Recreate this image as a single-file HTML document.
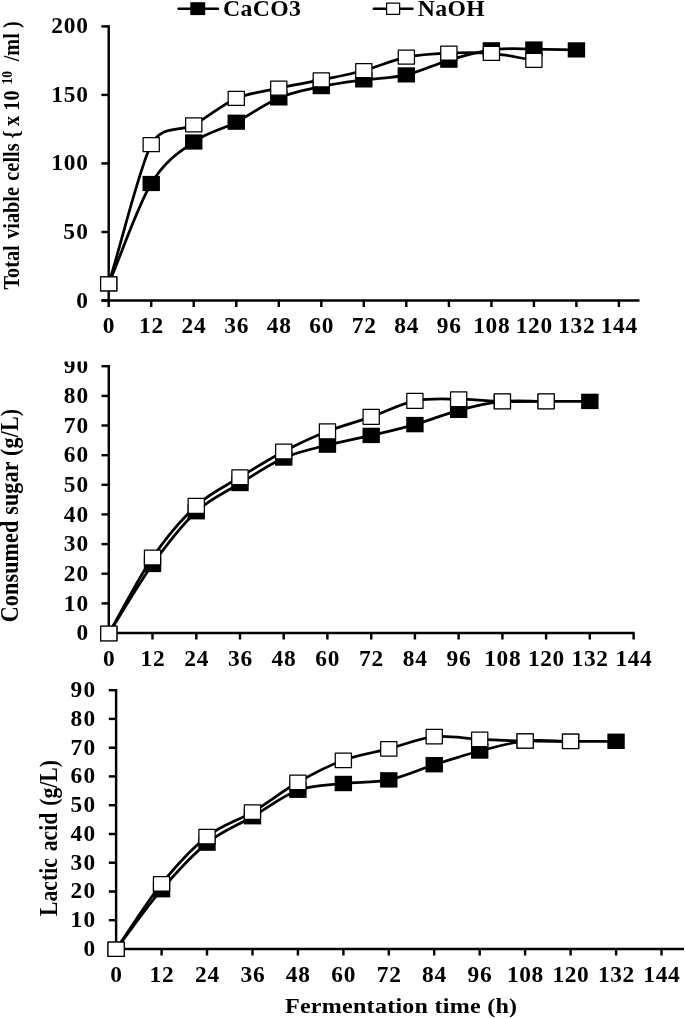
<!DOCTYPE html>
<html lang="en"><head><meta charset="utf-8"><title>Fermentation charts</title><style>
html,body{margin:0;padding:0;background:#fff;}
body{width:685px;height:1018px;overflow:hidden;}
svg{display:block;}
.ax{stroke:#000;stroke-width:2.45;fill:none;stroke-linecap:butt;}
.ln{stroke:#000;stroke-width:2.75;fill:none;stroke-linecap:round;stroke-linejoin:round;}
.wm{fill:#fff;stroke:#000;stroke-width:1.25;stroke-linejoin:round;}
</style></head><body>
<svg width="685" height="1018" viewBox="0 0 685 1018">
<rect width="685" height="1018" fill="#fff"/>
<defs><filter id="soft" x="0" y="0" width="685" height="1018" filterUnits="userSpaceOnUse" color-interpolation-filters="sRGB"><feGaussianBlur stdDeviation="0.55"/></filter></defs>
<g font-family='"Liberation Serif", "DejaVu Serif", serif' font-weight="bold" fill="#000" filter="url(#soft)">
<path d="M108.8,365.0 V634.2" class="ax"/>
<path d="M101.5,633.0 H634.6" class="ax"/>
<path d="M101.5,633.0 H108.8" class="ax"/>
<text transform="translate(88.3 640.1) scale(1.05 1.0)" font-size="22.3" text-anchor="end" textLength="12.1" lengthAdjust="spacing" >0</text>
<path d="M101.5,603.4 H108.8" class="ax"/>
<text transform="translate(88.3 610.5) scale(1.05 1.0)" font-size="22.3" text-anchor="end" textLength="23.5" lengthAdjust="spacing" >10</text>
<path d="M101.5,573.7 H108.8" class="ax"/>
<text transform="translate(88.3 580.8) scale(1.05 1.0)" font-size="22.3" text-anchor="end" textLength="23.5" lengthAdjust="spacing" >20</text>
<path d="M101.5,544.1 H108.8" class="ax"/>
<text transform="translate(88.3 551.2) scale(1.05 1.0)" font-size="22.3" text-anchor="end" textLength="23.5" lengthAdjust="spacing" >30</text>
<path d="M101.5,514.4 H108.8" class="ax"/>
<text transform="translate(88.3 521.5) scale(1.05 1.0)" font-size="22.3" text-anchor="end" textLength="23.5" lengthAdjust="spacing" >40</text>
<path d="M101.5,484.8 H108.8" class="ax"/>
<text transform="translate(88.3 491.9) scale(1.05 1.0)" font-size="22.3" text-anchor="end" textLength="23.5" lengthAdjust="spacing" >50</text>
<path d="M101.5,455.2 H108.8" class="ax"/>
<text transform="translate(88.3 462.3) scale(1.05 1.0)" font-size="22.3" text-anchor="end" textLength="23.5" lengthAdjust="spacing" >60</text>
<path d="M101.5,425.5 H108.8" class="ax"/>
<text transform="translate(88.3 432.6) scale(1.05 1.0)" font-size="22.3" text-anchor="end" textLength="23.5" lengthAdjust="spacing" >70</text>
<path d="M101.5,395.9 H108.8" class="ax"/>
<text transform="translate(88.3 403.0) scale(1.05 1.0)" font-size="22.3" text-anchor="end" textLength="23.5" lengthAdjust="spacing" >80</text>
<path d="M101.5,366.2 H108.8" class="ax"/>
<text transform="translate(88.3 373.3) scale(1.05 1.0)" font-size="22.3" text-anchor="end" textLength="23.5" lengthAdjust="spacing" >90</text>
<path d="M108.8,633.0 V639.5" class="ax"/>
<text transform="translate(108.8 666.3) scale(1.05 1.0)" font-size="22.3" text-anchor="middle" textLength="11.6" lengthAdjust="spacing" >0</text>
<path d="M152.5,633.0 V639.5" class="ax"/>
<text transform="translate(152.5 666.3) scale(1.05 1.0)" font-size="22.3" text-anchor="middle" textLength="23.1" lengthAdjust="spacing" >12</text>
<path d="M196.3,633.0 V639.5" class="ax"/>
<text transform="translate(196.3 666.3) scale(1.05 1.0)" font-size="22.3" text-anchor="middle" textLength="23.1" lengthAdjust="spacing" >24</text>
<path d="M240.0,633.0 V639.5" class="ax"/>
<text transform="translate(240.0 666.3) scale(1.05 1.0)" font-size="22.3" text-anchor="middle" textLength="23.1" lengthAdjust="spacing" >36</text>
<path d="M283.7,633.0 V639.5" class="ax"/>
<text transform="translate(283.7 666.3) scale(1.05 1.0)" font-size="22.3" text-anchor="middle" textLength="23.1" lengthAdjust="spacing" >48</text>
<path d="M327.4,633.0 V639.5" class="ax"/>
<text transform="translate(327.4 666.3) scale(1.05 1.0)" font-size="22.3" text-anchor="middle" textLength="23.1" lengthAdjust="spacing" >60</text>
<path d="M371.2,633.0 V639.5" class="ax"/>
<text transform="translate(371.2 666.3) scale(1.05 1.0)" font-size="22.3" text-anchor="middle" textLength="23.1" lengthAdjust="spacing" >72</text>
<path d="M414.9,633.0 V639.5" class="ax"/>
<text transform="translate(414.9 666.3) scale(1.05 1.0)" font-size="22.3" text-anchor="middle" textLength="23.1" lengthAdjust="spacing" >84</text>
<path d="M458.6,633.0 V639.5" class="ax"/>
<text transform="translate(458.6 666.3) scale(1.05 1.0)" font-size="22.3" text-anchor="middle" textLength="23.1" lengthAdjust="spacing" >96</text>
<path d="M502.4,633.0 V639.5" class="ax"/>
<text transform="translate(502.4 666.3) scale(1.05 1.0)" font-size="22.3" text-anchor="middle" textLength="34.7" lengthAdjust="spacing" >108</text>
<path d="M546.1,633.0 V639.5" class="ax"/>
<text transform="translate(546.1 666.3) scale(1.05 1.0)" font-size="22.3" text-anchor="middle" textLength="34.7" lengthAdjust="spacing" >120</text>
<path d="M589.8,633.0 V639.5" class="ax"/>
<text transform="translate(589.8 666.3) scale(1.05 1.0)" font-size="22.3" text-anchor="middle" textLength="34.7" lengthAdjust="spacing" >132</text>
<path d="M633.6,633.0 V639.5" class="ax"/>
<text transform="translate(633.6 666.3) scale(1.05 1.0)" font-size="22.3" text-anchor="middle" textLength="34.7" lengthAdjust="spacing" >144</text>
<path d="M108.80,633.50 C123.38,610.47 137.95,584.70 152.53,564.40 C167.11,544.10 181.68,525.18 196.26,511.70 C210.84,498.22 225.41,492.45 239.99,483.50 C254.57,474.55 269.14,464.40 283.72,458.00 C298.30,451.60 312.87,448.87 327.45,445.10 C342.03,441.33 356.60,438.82 371.18,435.40 C385.76,431.98 400.33,428.78 414.91,424.60 C429.49,420.42 444.06,414.17 458.64,410.30 C473.22,406.43 487.79,402.88 502.37,401.40 C516.95,399.92 531.52,401.40 546.10,401.40 C560.68,401.40 575.25,401.40 589.83,401.40" class="ln"/>
<path d="M108.80,633.50 C123.38,608.17 137.95,578.78 152.53,557.50 C167.11,536.22 181.68,519.18 196.26,505.80 C210.84,492.42 225.41,486.25 239.99,477.20 C254.57,468.15 269.14,459.15 283.72,451.50 C298.30,443.85 312.87,437.07 327.45,431.30 C342.03,425.53 356.60,421.97 371.18,416.90 C385.76,411.83 400.33,403.85 414.91,400.90 C429.49,397.95 444.06,399.12 458.64,399.20 C473.22,399.28 487.79,401.03 502.37,401.40 C516.95,401.77 531.52,401.40 546.10,401.40" class="ln"/>
<rect x="100.10" y="625.80" width="17.4" height="15.4" fill="#000"/>
<rect x="143.83" y="556.70" width="17.4" height="15.4" fill="#000"/>
<rect x="187.56" y="504.00" width="17.4" height="15.4" fill="#000"/>
<rect x="231.29" y="475.80" width="17.4" height="15.4" fill="#000"/>
<rect x="275.02" y="450.30" width="17.4" height="15.4" fill="#000"/>
<rect x="318.75" y="437.40" width="17.4" height="15.4" fill="#000"/>
<rect x="362.48" y="427.70" width="17.4" height="15.4" fill="#000"/>
<rect x="406.21" y="416.90" width="17.4" height="15.4" fill="#000"/>
<rect x="449.94" y="402.60" width="17.4" height="15.4" fill="#000"/>
<rect x="493.67" y="393.70" width="17.4" height="15.4" fill="#000"/>
<rect x="537.40" y="393.70" width="17.4" height="15.4" fill="#000"/>
<rect x="581.13" y="393.70" width="17.4" height="15.4" fill="#000"/>
<rect x="100.70" y="626.05" width="16.2" height="14.9" class="wm"/>
<rect x="144.43" y="550.05" width="16.2" height="14.9" class="wm"/>
<rect x="188.16" y="498.35" width="16.2" height="14.9" class="wm"/>
<rect x="231.89" y="469.75" width="16.2" height="14.9" class="wm"/>
<rect x="275.62" y="444.05" width="16.2" height="14.9" class="wm"/>
<rect x="319.35" y="423.85" width="16.2" height="14.9" class="wm"/>
<rect x="363.08" y="409.45" width="16.2" height="14.9" class="wm"/>
<rect x="406.81" y="393.45" width="16.2" height="14.9" class="wm"/>
<rect x="450.54" y="391.75" width="16.2" height="14.9" class="wm"/>
<rect x="494.27" y="393.95" width="16.2" height="14.9" class="wm"/>
<rect x="538.00" y="393.95" width="16.2" height="14.9" class="wm"/>
<rect x="0" y="340" width="108" height="21.5" fill="#fff"/>
<path d="M108.7,25.2 V301.7" class="ax"/>
<path d="M101.5,300.5 H639.5" class="ax"/>
<path d="M101.4,300.5 H108.7" class="ax"/>
<text transform="translate(88.0 307.5) scale(1.05 1.0)" font-size="22.3" text-anchor="end" textLength="12.1" lengthAdjust="spacing" >0</text>
<path d="M101.4,232.0 H108.7" class="ax"/>
<text transform="translate(88.0 239.0) scale(1.05 1.0)" font-size="22.3" text-anchor="end" textLength="23.5" lengthAdjust="spacing" >50</text>
<path d="M101.4,163.4 H108.7" class="ax"/>
<text transform="translate(88.0 170.4) scale(1.05 1.0)" font-size="22.3" text-anchor="end" textLength="35.0" lengthAdjust="spacing" >100</text>
<path d="M101.4,94.9 H108.7" class="ax"/>
<text transform="translate(88.0 101.9) scale(1.05 1.0)" font-size="22.3" text-anchor="end" textLength="35.0" lengthAdjust="spacing" >150</text>
<path d="M101.4,26.4 H108.7" class="ax"/>
<text transform="translate(88.0 33.4) scale(1.05 1.0)" font-size="22.3" text-anchor="end" textLength="35.0" lengthAdjust="spacing" >200</text>
<path d="M108.7,300.5 V307.0" class="ax"/>
<text transform="translate(108.7 333.2) scale(1.05 1.0)" font-size="22.3" text-anchor="middle" textLength="11.6" lengthAdjust="spacing" >0</text>
<path d="M151.2,300.5 V307.0" class="ax"/>
<text transform="translate(151.2 333.2) scale(1.05 1.0)" font-size="22.3" text-anchor="middle" textLength="23.1" lengthAdjust="spacing" >12</text>
<path d="M193.7,300.5 V307.0" class="ax"/>
<text transform="translate(193.7 333.2) scale(1.05 1.0)" font-size="22.3" text-anchor="middle" textLength="23.1" lengthAdjust="spacing" >24</text>
<path d="M236.3,300.5 V307.0" class="ax"/>
<text transform="translate(236.3 333.2) scale(1.05 1.0)" font-size="22.3" text-anchor="middle" textLength="23.1" lengthAdjust="spacing" >36</text>
<path d="M278.8,300.5 V307.0" class="ax"/>
<text transform="translate(278.8 333.2) scale(1.05 1.0)" font-size="22.3" text-anchor="middle" textLength="23.1" lengthAdjust="spacing" >48</text>
<path d="M321.3,300.5 V307.0" class="ax"/>
<text transform="translate(321.3 333.2) scale(1.05 1.0)" font-size="22.3" text-anchor="middle" textLength="23.1" lengthAdjust="spacing" >60</text>
<path d="M363.8,300.5 V307.0" class="ax"/>
<text transform="translate(363.8 333.2) scale(1.05 1.0)" font-size="22.3" text-anchor="middle" textLength="23.1" lengthAdjust="spacing" >72</text>
<path d="M406.3,300.5 V307.0" class="ax"/>
<text transform="translate(406.3 333.2) scale(1.05 1.0)" font-size="22.3" text-anchor="middle" textLength="23.1" lengthAdjust="spacing" >84</text>
<path d="M448.9,300.5 V307.0" class="ax"/>
<text transform="translate(448.9 333.2) scale(1.05 1.0)" font-size="22.3" text-anchor="middle" textLength="23.1" lengthAdjust="spacing" >96</text>
<path d="M491.4,300.5 V307.0" class="ax"/>
<text transform="translate(491.4 333.2) scale(1.05 1.0)" font-size="22.3" text-anchor="middle" textLength="34.7" lengthAdjust="spacing" >108</text>
<path d="M533.9,300.5 V307.0" class="ax"/>
<text transform="translate(533.9 333.2) scale(1.05 1.0)" font-size="22.3" text-anchor="middle" textLength="34.7" lengthAdjust="spacing" >120</text>
<path d="M576.4,300.5 V307.0" class="ax"/>
<text transform="translate(576.4 333.2) scale(1.05 1.0)" font-size="22.3" text-anchor="middle" textLength="34.7" lengthAdjust="spacing" >132</text>
<path d="M618.9,300.5 V307.0" class="ax"/>
<text transform="translate(618.9 333.2) scale(1.05 1.0)" font-size="22.3" text-anchor="middle" textLength="34.7" lengthAdjust="spacing" >144</text>
<path d="M108.70,283.90 C122.87,250.43 137.05,207.15 151.22,183.50 C165.39,159.85 179.57,152.22 193.74,142.00 C207.91,131.78 222.09,129.55 236.26,122.20 C250.43,114.85 264.61,103.83 278.78,97.90 C292.95,91.97 307.13,89.60 321.30,86.60 C335.47,83.60 349.65,81.85 363.82,79.90 C377.99,77.95 392.17,78.18 406.34,74.90 C420.51,71.62 434.69,64.38 448.86,60.20 C463.03,56.02 477.21,51.67 491.38,49.80 C505.55,47.93 519.73,48.98 533.90,49.00 C548.07,49.02 562.25,49.60 576.42,49.90" class="ln"/>
<path d="M108.70,283.90 C122.87,237.50 140.15,165.40 151.22,144.70 C162.29,124.00 179.57,132.52 193.74,124.80 C207.91,117.08 222.09,104.50 236.26,98.40 C250.43,92.30 264.61,91.28 278.78,88.20 C292.95,85.12 307.13,82.85 321.30,79.90 C335.47,76.95 349.65,74.30 363.82,70.50 C377.99,66.70 392.17,60.02 406.34,57.10 C420.51,54.18 434.69,53.62 448.86,53.00 C463.03,52.38 477.21,52.18 491.38,53.40 C505.55,54.62 519.73,58.00 533.90,60.30" class="ln"/>
<rect x="100.00" y="276.30" width="17.4" height="15.2" fill="#000"/>
<rect x="142.52" y="175.90" width="17.4" height="15.2" fill="#000"/>
<rect x="185.04" y="134.40" width="17.4" height="15.2" fill="#000"/>
<rect x="227.56" y="114.60" width="17.4" height="15.2" fill="#000"/>
<rect x="270.08" y="90.30" width="17.4" height="15.2" fill="#000"/>
<rect x="312.60" y="79.00" width="17.4" height="15.2" fill="#000"/>
<rect x="355.12" y="72.30" width="17.4" height="15.2" fill="#000"/>
<rect x="397.64" y="67.30" width="17.4" height="15.2" fill="#000"/>
<rect x="440.16" y="52.60" width="17.4" height="15.2" fill="#000"/>
<rect x="482.68" y="42.20" width="17.4" height="15.2" fill="#000"/>
<rect x="525.20" y="41.40" width="17.4" height="15.2" fill="#000"/>
<rect x="567.72" y="42.30" width="17.4" height="15.2" fill="#000"/>
<rect x="100.60" y="276.90" width="16.2" height="14.0" class="wm"/>
<rect x="143.12" y="137.70" width="16.2" height="14.0" class="wm"/>
<rect x="185.64" y="117.80" width="16.2" height="14.0" class="wm"/>
<rect x="228.16" y="91.40" width="16.2" height="14.0" class="wm"/>
<rect x="270.68" y="81.20" width="16.2" height="14.0" class="wm"/>
<rect x="313.20" y="72.90" width="16.2" height="14.0" class="wm"/>
<rect x="355.72" y="63.50" width="16.2" height="14.0" class="wm"/>
<rect x="398.24" y="50.10" width="16.2" height="14.0" class="wm"/>
<rect x="440.76" y="46.00" width="16.2" height="14.0" class="wm"/>
<rect x="483.28" y="46.40" width="16.2" height="14.0" class="wm"/>
<rect x="525.80" y="53.30" width="16.2" height="14.0" class="wm"/>
<path d="M116.1,689.0 V950.2" class="ax"/>
<path d="M108.5,949.0 H684.0" class="ax"/>
<path d="M108.8,949.0 H116.1" class="ax"/>
<text transform="translate(95.2 955.9) scale(1.05 1.0)" font-size="22.3" text-anchor="end" textLength="12.1" lengthAdjust="spacing" >0</text>
<path d="M108.8,920.2 H116.1" class="ax"/>
<text transform="translate(95.2 927.1) scale(1.05 1.0)" font-size="22.3" text-anchor="end" textLength="23.5" lengthAdjust="spacing" >10</text>
<path d="M108.8,891.5 H116.1" class="ax"/>
<text transform="translate(95.2 898.4) scale(1.05 1.0)" font-size="22.3" text-anchor="end" textLength="23.5" lengthAdjust="spacing" >20</text>
<path d="M108.8,862.7 H116.1" class="ax"/>
<text transform="translate(95.2 869.6) scale(1.05 1.0)" font-size="22.3" text-anchor="end" textLength="23.5" lengthAdjust="spacing" >30</text>
<path d="M108.8,834.0 H116.1" class="ax"/>
<text transform="translate(95.2 840.9) scale(1.05 1.0)" font-size="22.3" text-anchor="end" textLength="23.5" lengthAdjust="spacing" >40</text>
<path d="M108.8,805.2 H116.1" class="ax"/>
<text transform="translate(95.2 812.1) scale(1.05 1.0)" font-size="22.3" text-anchor="end" textLength="23.5" lengthAdjust="spacing" >50</text>
<path d="M108.8,776.4 H116.1" class="ax"/>
<text transform="translate(95.2 783.3) scale(1.05 1.0)" font-size="22.3" text-anchor="end" textLength="23.5" lengthAdjust="spacing" >60</text>
<path d="M108.8,747.7 H116.1" class="ax"/>
<text transform="translate(95.2 754.6) scale(1.05 1.0)" font-size="22.3" text-anchor="end" textLength="23.5" lengthAdjust="spacing" >70</text>
<path d="M108.8,718.9 H116.1" class="ax"/>
<text transform="translate(95.2 725.8) scale(1.05 1.0)" font-size="22.3" text-anchor="end" textLength="23.5" lengthAdjust="spacing" >80</text>
<path d="M108.8,690.2 H116.1" class="ax"/>
<text transform="translate(95.2 697.1) scale(1.05 1.0)" font-size="22.3" text-anchor="end" textLength="23.5" lengthAdjust="spacing" >90</text>
<path d="M116.1,949.0 V955.5" class="ax"/>
<text transform="translate(116.1 982.0) scale(1.05 1.0)" font-size="22.3" text-anchor="middle" textLength="11.6" lengthAdjust="spacing" >0</text>
<path d="M161.6,949.0 V955.5" class="ax"/>
<text transform="translate(161.6 982.0) scale(1.05 1.0)" font-size="22.3" text-anchor="middle" textLength="23.1" lengthAdjust="spacing" >12</text>
<path d="M207.0,949.0 V955.5" class="ax"/>
<text transform="translate(207.0 982.0) scale(1.05 1.0)" font-size="22.3" text-anchor="middle" textLength="23.1" lengthAdjust="spacing" >24</text>
<path d="M252.5,949.0 V955.5" class="ax"/>
<text transform="translate(252.5 982.0) scale(1.05 1.0)" font-size="22.3" text-anchor="middle" textLength="23.1" lengthAdjust="spacing" >36</text>
<path d="M297.9,949.0 V955.5" class="ax"/>
<text transform="translate(297.9 982.0) scale(1.05 1.0)" font-size="22.3" text-anchor="middle" textLength="23.1" lengthAdjust="spacing" >48</text>
<path d="M343.4,949.0 V955.5" class="ax"/>
<text transform="translate(343.4 982.0) scale(1.05 1.0)" font-size="22.3" text-anchor="middle" textLength="23.1" lengthAdjust="spacing" >60</text>
<path d="M388.8,949.0 V955.5" class="ax"/>
<text transform="translate(388.8 982.0) scale(1.05 1.0)" font-size="22.3" text-anchor="middle" textLength="23.1" lengthAdjust="spacing" >72</text>
<path d="M434.2,949.0 V955.5" class="ax"/>
<text transform="translate(434.2 982.0) scale(1.05 1.0)" font-size="22.3" text-anchor="middle" textLength="23.1" lengthAdjust="spacing" >84</text>
<path d="M479.7,949.0 V955.5" class="ax"/>
<text transform="translate(479.7 982.0) scale(1.05 1.0)" font-size="22.3" text-anchor="middle" textLength="23.1" lengthAdjust="spacing" >96</text>
<path d="M525.1,949.0 V955.5" class="ax"/>
<text transform="translate(525.1 982.0) scale(1.05 1.0)" font-size="22.3" text-anchor="middle" textLength="34.7" lengthAdjust="spacing" >108</text>
<path d="M570.6,949.0 V955.5" class="ax"/>
<text transform="translate(570.6 982.0) scale(1.05 1.0)" font-size="22.3" text-anchor="middle" textLength="34.7" lengthAdjust="spacing" >120</text>
<path d="M616.1,949.0 V955.5" class="ax"/>
<text transform="translate(616.1 982.0) scale(1.05 1.0)" font-size="22.3" text-anchor="middle" textLength="34.7" lengthAdjust="spacing" >132</text>
<path d="M661.5,949.0 V955.5" class="ax"/>
<text transform="translate(661.5 982.0) scale(1.05 1.0)" font-size="22.3" text-anchor="middle" textLength="34.7" lengthAdjust="spacing" >144</text>
<path d="M116.10,949.20 C131.25,929.37 146.40,907.38 161.55,889.70 C176.70,872.02 191.85,855.27 207.00,843.10 C222.15,830.93 237.30,825.52 252.45,816.70 C267.60,807.88 282.75,795.73 297.90,790.20 C313.05,784.67 328.20,785.22 343.35,783.50 C358.50,781.78 373.65,783.03 388.80,779.90 C403.95,776.77 419.10,769.52 434.25,764.70 C449.40,759.88 464.55,754.95 479.70,751.00 C494.85,747.05 510.00,742.62 525.15,741.00 C540.30,739.38 555.45,741.25 570.60,741.30 C585.75,741.35 600.90,741.30 616.05,741.30" class="ln"/>
<path d="M116.10,949.20 C131.25,927.40 146.40,902.57 161.55,883.80 C176.70,865.03 191.85,848.55 207.00,836.60 C222.15,824.65 237.30,821.15 252.45,812.10 C267.60,803.05 282.75,790.93 297.90,782.30 C313.05,773.67 328.20,765.88 343.35,760.30 C358.50,754.72 373.65,752.75 388.80,748.80 C403.95,744.85 419.10,738.18 434.25,736.60 C449.40,735.02 464.55,738.57 479.70,739.30 C494.85,740.03 510.00,740.67 525.15,741.00 C540.30,741.33 555.45,741.20 570.60,741.30" class="ln"/>
<rect x="107.40" y="941.50" width="17.4" height="15.4" fill="#000"/>
<rect x="152.85" y="882.00" width="17.4" height="15.4" fill="#000"/>
<rect x="198.30" y="835.40" width="17.4" height="15.4" fill="#000"/>
<rect x="243.75" y="809.00" width="17.4" height="15.4" fill="#000"/>
<rect x="289.20" y="782.50" width="17.4" height="15.4" fill="#000"/>
<rect x="334.65" y="775.80" width="17.4" height="15.4" fill="#000"/>
<rect x="380.10" y="772.20" width="17.4" height="15.4" fill="#000"/>
<rect x="425.55" y="757.00" width="17.4" height="15.4" fill="#000"/>
<rect x="471.00" y="743.30" width="17.4" height="15.4" fill="#000"/>
<rect x="516.45" y="733.30" width="17.4" height="15.4" fill="#000"/>
<rect x="561.90" y="733.60" width="17.4" height="15.4" fill="#000"/>
<rect x="607.35" y="733.60" width="17.4" height="15.4" fill="#000"/>
<rect x="108.00" y="942.00" width="16.2" height="14.4" class="wm"/>
<rect x="153.45" y="876.60" width="16.2" height="14.4" class="wm"/>
<rect x="198.90" y="829.40" width="16.2" height="14.4" class="wm"/>
<rect x="244.35" y="804.90" width="16.2" height="14.4" class="wm"/>
<rect x="289.80" y="775.10" width="16.2" height="14.4" class="wm"/>
<rect x="335.25" y="753.10" width="16.2" height="14.4" class="wm"/>
<rect x="380.70" y="741.60" width="16.2" height="14.4" class="wm"/>
<rect x="426.15" y="729.40" width="16.2" height="14.4" class="wm"/>
<rect x="471.60" y="732.10" width="16.2" height="14.4" class="wm"/>
<rect x="517.05" y="733.80" width="16.2" height="14.4" class="wm"/>
<rect x="562.50" y="734.10" width="16.2" height="14.4" class="wm"/>
<path d="M178.6,8.7 H218" class="ln" style="stroke-width:2.5"/>
<rect x="190.3" y="2.2" width="14.9" height="12.9" fill="#000"/>
<text transform="translate(223.0 16.1) scale(1.04 1.0)" font-size="22.8" text-anchor="start" textLength="74.8" lengthAdjust="spacing" >CaCO3</text>
<path d="M373.8,8.7 H412.5" class="ln" style="stroke-width:2.5"/>
<rect x="386.6" y="3.1" width="13" height="11.3" class="wm"/>
<text transform="translate(417.8 16.1) scale(1.04 1.0)" font-size="22.8" text-anchor="start" textLength="64.4" lengthAdjust="spacing" >NaOH</text>
<text transform="translate(285.0 1012.5) scale(1.19 1.0)" font-size="20.2" text-anchor="start" textLength="195.0" lengthAdjust="spacing" >Fermentation time (h)</text>
<text transform="translate(18.7 289.6) rotate(-90) scale(1.0 1.11)" font-size="20.3" text-anchor="start" ><tspan word-spacing="1.3">Total viable cells</tspan><tspan x="151">{</tspan><tspan x="163.5">x</tspan><tspan x="178.9">10</tspan><tspan x="205" dy="-6.13" font-size="13.7">10</tspan><tspan x="228.3" dy="6.13">/ml )</tspan></text>
<text transform="translate(17.8 622.3) rotate(-90) scale(1.0 1.11)" font-size="22" text-anchor="start" textLength="213.5" lengthAdjust="spacing" >Consumed sugar (g/L)</text>
<text transform="translate(57.1 915.9) rotate(-90) scale(1.0 1.17)" font-size="21.6" text-anchor="start" textLength="155.8" lengthAdjust="spacing" word-spacing="1.6">Lactic acid (g/L)</text>
</g></svg>
</body></html>
